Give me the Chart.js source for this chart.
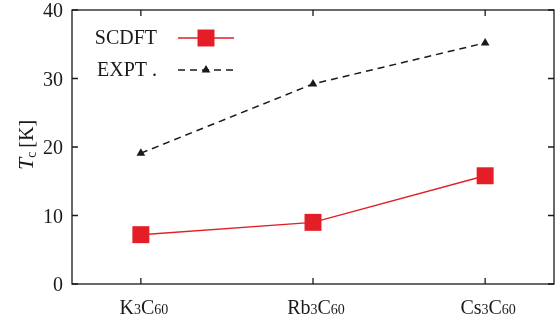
<!DOCTYPE html>
<html>
<head>
<meta charset="utf-8">
<script src="https://cdn.jsdelivr.net/npm/chart.js@4"></script>
<style>
  html, body { margin: 0; padding: 0; background: #fff; }
  #wrap { width: 555px; height: 322px; position: relative; }
</style>
</head>
<body>
<div id="wrap"><canvas id="c"></canvas></div>
<script>
// categories and values
const compounds = [
  { main: "K", sub: "3" },
  { main: "Rb", sub: "3" },
  { main: "Cs", sub: "3" },
];
const scdftTc = [7.2, 9.0, 15.8];
const exptTc = [19.1, 29.2, 35.2];
const yTicks = [0, 10, 20, 30, 40];
const seriesLabels = ["SCDFT", "EXPT ."];

const RED = "#e41e26";
const INK = "#1a1a1a";
const SERIF = '"Liberation Serif", "DejaVu Serif", serif';

// gnuplot style frame: box, inward ticks, custom labels, key
const frame = {
  id: "frame",
  afterDatasetsDraw(chart) {
    const { ctx, chartArea: a, scales: { x, y } } = chart;
    ctx.save();
    ctx.strokeStyle = INK;
    ctx.lineWidth = 1.3;
    ctx.strokeRect(a.left, a.top, a.right - a.left, a.bottom - a.top);

    const tl = 6;
    ctx.beginPath();
    yTicks.forEach((v) => {
      const py = y.getPixelForValue(v);
      ctx.moveTo(a.left, py); ctx.lineTo(a.left + tl, py);
      ctx.moveTo(a.right, py); ctx.lineTo(a.right - tl, py);
    });
    compounds.forEach((c, i) => {
      const px = x.getPixelForValue(i);
      ctx.moveTo(px, a.bottom); ctx.lineTo(px, a.bottom - tl);
      ctx.moveTo(px, a.top); ctx.lineTo(px, a.top + tl);
    });
    ctx.stroke();

    // y tick labels
    ctx.fillStyle = INK;
    ctx.font = "20px " + SERIF;
    ctx.textAlign = "right";
    ctx.textBaseline = "middle";
    yTicks.forEach((v) => {
      ctx.fillText(String(v), a.left - 9, y.getPixelForValue(v) + 2);
    });

    // x tick labels, e.g. K3C60 with small digits
    const big = "20px " + SERIF, small = "14px " + SERIF;
    const base = a.bottom + 30;
    ctx.textAlign = "left";
    ctx.textBaseline = "alphabetic";
    compounds.forEach((c, i) => {
      const parts = [
        [c.main, big], [c.sub, small], ["C", big], ["60", small],
      ];
      let w = 0;
      parts.forEach(([t, f]) => { ctx.font = f; w += ctx.measureText(t).width; });
      let px = x.getPixelForValue(i) - w / 2 + 3;
      parts.forEach(([t, f]) => {
        ctx.font = f;
        ctx.fillText(t, px, base);
        px += ctx.measureText(t).width;
      });
    });

    // y axis title: T_c [K]
    ctx.save();
    ctx.translate(33, 145);
    ctx.rotate(-Math.PI / 2);
    ctx.textBaseline = "alphabetic";
    const tParts = [["T", "italic 22px " + SERIF, 0], ["c", "14px " + SERIF, 3], ["[K]", "20px " + SERIF, 0]];
    let tw = 0;
    tParts.forEach(([t, f]) => { ctx.font = f; tw += ctx.measureText(t).width; });
    tw += 4;
    let tx = -tw / 2;
    tParts.forEach(([t, f, dy], k) => {
      ctx.font = f;
      ctx.fillText(t, tx, dy);
      tx += ctx.measureText(t).width + (k === 1 ? 4 : 0);
    });
    ctx.restore();

    // key
    const rows = [38, 70];
    chart.data.datasets.forEach((ds, i) => {
      const ry = rows[i];
      ctx.font = "20px " + SERIF;
      ctx.textAlign = "right";
      ctx.textBaseline = "middle";
      ctx.fillStyle = INK;
      ctx.fillText(ds.label, 157, ry + 1);
      ctx.beginPath();
      ctx.strokeStyle = ds.borderColor;
      ctx.lineWidth = ds.borderWidth;
      ctx.setLineDash(ds.borderDash || []);
      ctx.moveTo(178, ry); ctx.lineTo(234, ry);
      ctx.stroke();
      ctx.setLineDash([]);
      ctx.fillStyle = ds.pointBackgroundColor;
      ctx.strokeStyle = ds.pointBorderColor;
      Chart.helpers.drawPoint(ctx, {
        pointStyle: ds.pointStyle, radius: ds.pointRadius, rotation: 0, borderWidth: 0,
      }, 206, ry);
    });
    ctx.restore();
  },
};

new Chart(document.getElementById("c"), {
  type: "line",
  data: {
    datasets: [
      {
        label: seriesLabels[0],
        data: scdftTc.map((v, i) => ({ x: i, y: v })),
        borderColor: RED,
        borderWidth: 1.4,
        pointStyle: "rect",
        pointRadius: 12,
        pointBackgroundColor: RED,
        pointBorderColor: RED,
        pointBorderWidth: 0,
      },
      {
        label: seriesLabels[1],
        data: exptTc.map((v, i) => ({ x: i, y: v })),
        borderColor: INK,
        borderWidth: 1.5,
        borderDash: [7, 5],
        pointStyle: "triangle",
        pointRadius: 5,
        pointBackgroundColor: INK,
        pointBorderColor: INK,
        pointBorderWidth: 0,
      },
    ],
  },
  options: {
    responsive: true,
    maintainAspectRatio: false,
    animation: false,
    events: [],
    layout: { autoPadding: false, padding: { top: 10, right: 1, left: 0, bottom: 0 } },
    plugins: { legend: { display: false }, tooltip: { enabled: false } },
    scales: {
      x: {
        type: "linear",
        min: -0.4,
        max: 2.4,
        grid: { display: false },
        border: { display: false },
        ticks: { display: false },
        afterFit: (s) => { s.height = 38; },
      },
      y: {
        min: 0,
        max: 40,
        grid: { display: false },
        border: { display: false },
        ticks: { display: false },
        afterFit: (s) => { s.width = 72; },
      },
    },
  },
  plugins: [frame],
});
</script>
</body>
</html>
